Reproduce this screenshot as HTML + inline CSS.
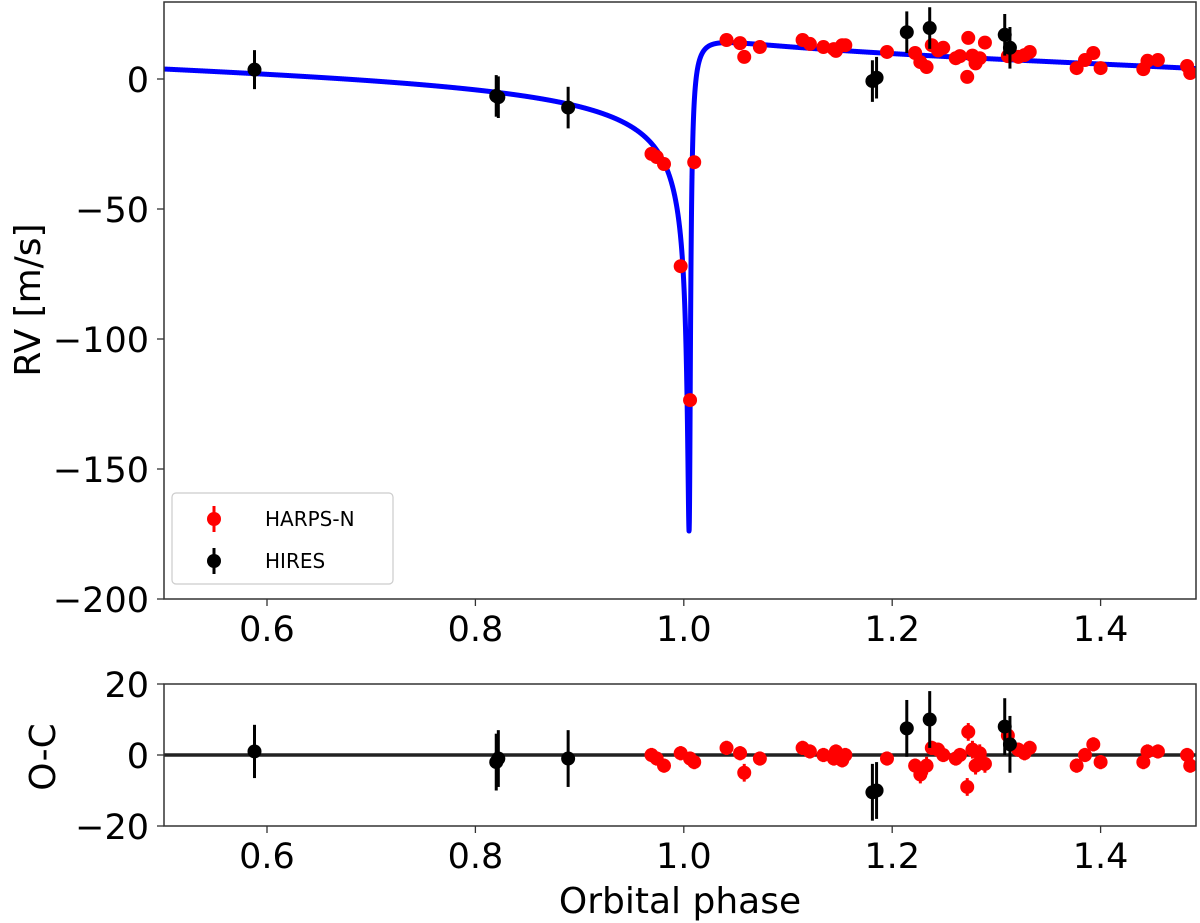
<!DOCTYPE html>
<html><head><meta charset="utf-8"><style>
body{margin:0;background:#fff;}
svg{display:block;font-family:"DejaVu Sans","Liberation Sans",sans-serif;}
</style></head><body>
<svg id="chart" width="1200" height="923" viewBox="0 0 1200 923" xmlns="http://www.w3.org/2000/svg"></svg>
<script>
// ---- data ----
const hiresPhase = [0.588, 0.820, 0.822, 0.889, 1.181, 1.185, 1.214, 1.236, 1.308, 1.313];
const hiresRV    = [3.6, -6.5, -7, -11, -0.8, 0.5, 18, 19.6, 17, 12];
const hiresErr   = [7.5, 8, 8, 8, 8, 8, 8, 8, 8, 8];
const hiresRes   = [1, -2, -1, -1, -10.5, -10, 7.5, 10, 8, 3];

const harpsPhase = [0.969,0.974,0.981,0.997,1.006,1.010,1.041,1.054,1.058,1.073,1.114,1.121,1.134,1.144,1.146,1.152,1.155,1.195,1.222,1.227,1.233,1.238,1.244,1.249,1.261,1.265,1.273,1.272,1.277,1.280,1.284,1.289,1.311,1.321,1.327,1.332,1.377,1.385,1.393,1.400,1.441,1.445,1.455,1.483,1.486];
const harpsRV    = [-28.8,-30,-32.7,-72,-123.5,-32,15,13.8,8.5,12.3,15,13.5,12.3,11.5,10.8,13,13,10.4,10,6.5,4.6,13,11,12,8,8.8,15.8,0.8,9,6,8,14,8.8,8.5,9.2,10.4,4.2,7.3,10,4.2,3.8,7,7.3,5,2.3];
const harpsRes   = [0,-1,-3,0.5,-1,-2,2,0.5,-5,-1,2,1,0,-1,1,-1.5,0,-1,-3,-5.5,-3,2,1.5,0,-1,0,6.5,-9,1.5,-3,0.5,-2.5,5.5,1.5,0.5,2,-3,0,3,-2,-2,1,1,0,-3];
const harpsErr   = [2,2,2,2,2,2,2,2,2.5,2,2,2,2,2,2,2,2,2,2,2.5,2.5,2,2,2,2,2,2.5,2.5,2.5,2.5,2.5,2.5,2,2,2,2,2,2,2,2,2,2,2,2,2];

// Keplerian model parameters
const modelK = [94];
const modelE = [0.96];
const modelOmega = [-153];
const modelTp = [1.0055];

const topTicks = [0, -50, -100, -150, -200];
const botTicks = [20, 0, -20];
const xTicks = [0.6, 0.8, 1.0, 1.2, 1.4];
const xTickLabels = ["0.6","0.8","1.0","1.2","1.4"];

// ---- axes ----
const L=164, R=1196;
const T1=2, B1=599, T2=684, B2=826;
const xs = p => 267 + (p-0.6)*1042;
const ys1 = v => 79 - v*2.6;
const ys2 = v => 755 - v*3.55;

const svg = document.getElementById('chart');
const NS = "http://www.w3.org/2000/svg";
function mk(tag, attrs, parent){
  const el=document.createElementNS(NS,tag);
  for(const k in attrs) el.setAttribute(k,attrs[k]);
  (parent||svg).appendChild(el);
  return el;
}
const fmt = v => v<0 ? "\u2212"+Math.abs(v) : ""+v;

const defs = mk('defs',{});
const c1 = mk('clipPath',{id:'clip1'},defs); mk('rect',{x:L,y:T1,width:R-L,height:B1-T1},c1);
const c2 = mk('clipPath',{id:'clip2'},defs); mk('rect',{x:L,y:T2,width:R-L,height:B2-T2},c2);

function kepler(p){
  const K=modelK[0], e=modelE[0], w=modelOmega[0]*Math.PI/180;
  let M = 2*Math.PI*(p-modelTp[0]);
  M = Math.atan2(Math.sin(M),Math.cos(M));
  let E = M===0 ? 0 : Math.PI*Math.sign(M)*0.5+M*0.5;
  for(let i=0;i<100;i++){ E = E - (E - e*Math.sin(E) - M)/(1 - e*Math.cos(E)); }
  const nu = 2*Math.atan2(Math.sqrt(1+e)*Math.sin(E/2), Math.sqrt(1-e)*Math.cos(E/2));
  const gamma = -80 - K*e*Math.cos(w);
  return gamma + K*(Math.cos(nu+w) + e*Math.cos(w));
}
const g1 = mk('g',{'clip-path':'url(#clip1)'});


let d='';
for(let i=0;i<=6000;i++){
  const p=0.5+i/6000;
  d += (i?'L':'M')+xs(p).toFixed(2)+' '+ys1(kepler(p)).toFixed(2);
}
const curve = mk('path',{d:d,fill:'none',stroke:'#0000ff','stroke-width':5,'stroke-linejoin':'round'},g1);



function points(g, ph, vals, errs, ysf, color, name){
  for(let i=0;i<ph.length;i++){
    const x=xs(ph[i]), y=ysf(vals[i]);
    const ln = mk('line',{x1:x,x2:x,y1:ysf(vals[i]+errs[i]),y2:ysf(vals[i]-errs[i]),stroke:color,'stroke-width':3},g);
    
    
    const c = mk('circle',{cx:x,cy:y,r:7,fill:color},g);
    
    
  }
}
points(g1, harpsPhase, harpsRV, harpsErr, ys1, '#ff0000', 'harps-n');
points(g1, hiresPhase, hiresRV, hiresErr, ys1, '#000000', 'hires');

const g2 = mk('g',{'clip-path':'url(#clip2)'});


const zl = mk('line',{x1:L,x2:R,y1:ys2(0),y2:ys2(0),stroke:'#222','stroke-width':3.5},g2);


points(g2, harpsPhase, harpsRes, harpsErr, ys2, '#ff0000', 'harps-n-residual');
points(g2, hiresPhase, hiresRes, hiresErr, ys2, '#000000', 'hires-residual');

const f1 = mk('rect',{x:L,y:T1,width:R-L,height:B1-T1,fill:'none',stroke:'#333','stroke-width':1.5});
 
const f2 = mk('rect',{x:L,y:T2,width:R-L,height:B2-T2,fill:'none',stroke:'#333','stroke-width':1.5});
 

const FS=35;
xTicks.forEach((t,i)=>{
  [[B1,'top'],[B2,'bottom']].forEach(([yb,nm])=>{
    const tk=mk('line',{x1:xs(t),x2:xs(t),y1:yb,y2:yb+7,stroke:'#333','stroke-width':1.3});
     
    const tx=mk('text',{x:xs(t),y:yb+42,'font-size':FS,'text-anchor':'middle',fill:'#000'});
    tx.textContent=xTickLabels[i];
     
  });
});
topTicks.forEach(t=>{
  const tk=mk('line',{x1:L-7,x2:L,y1:ys1(t),y2:ys1(t),stroke:'#333','stroke-width':1.3});
   
  const tx=mk('text',{x:L-15,y:ys1(t)+13,'font-size':FS,'text-anchor':'end',fill:'#000'});
  tx.textContent=fmt(t);
   
});
botTicks.forEach(t=>{
  const tk=mk('line',{x1:L-7,x2:L,y1:ys2(t),y2:ys2(t),stroke:'#333','stroke-width':1.3});
   
  const tx=mk('text',{x:L-15,y:ys2(t)+13,'font-size':FS,'text-anchor':'end',fill:'#000'});
  tx.textContent=fmt(t);
   
});

const yt=mk('text',{x:0,y:0,'font-size':36,'text-anchor':'middle',fill:'#000',transform:'translate(40,300) rotate(-90)'});
yt.textContent='RV [m/s]';
 
const yt2=mk('text',{x:0,y:0,'font-size':36,'text-anchor':'middle',fill:'#000',transform:'translate(55,757) rotate(-90)'});
yt2.textContent='O-C';
 
const xt=mk('text',{x:680,y:913,'font-size':36,'text-anchor':'middle',fill:'#000'});
xt.textContent='Orbital phase';
 

const lg=mk('g',{});
 
mk('rect',{x:172,y:493,width:221,height:91,rx:4,fill:'#fff',stroke:'#ccc','stroke-width':1.2},lg);
[['HARPS-N','#ff0000',519],['HIRES','#000',561]].forEach(([lab,col,y])=>{
  const e=mk('g',{},lg);
   
  mk('line',{x1:214,x2:214,y1:y-13,y2:y+13,stroke:col,'stroke-width':3},e);
  mk('circle',{cx:214,cy:y,r:7,fill:col},e);
  const t=mk('text',{x:265,y:y+7,'font-size':20,fill:'#000'},e);
  t.textContent=lab;
});
</script>
</body></html>
